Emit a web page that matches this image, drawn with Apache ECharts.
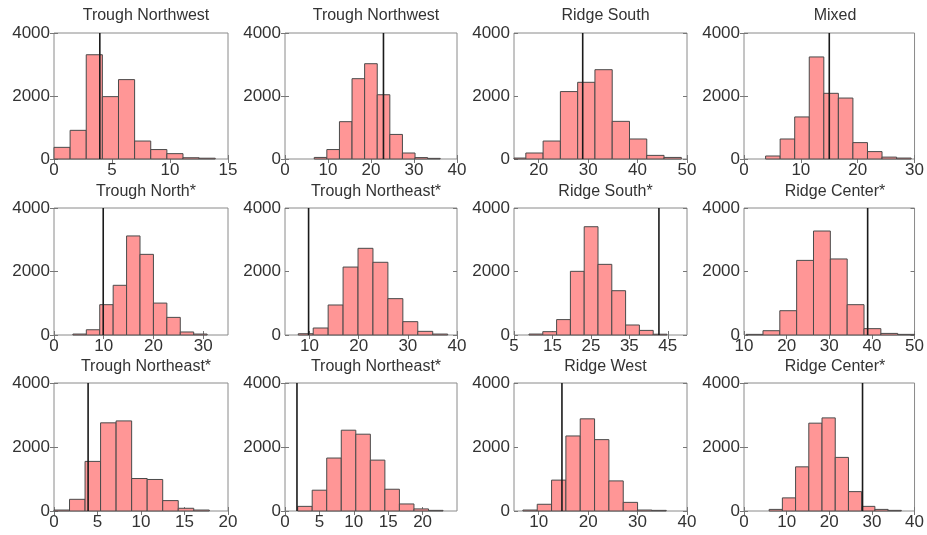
<!DOCTYPE html>
<html>
<head>
<meta charset="utf-8">
<script src="https://cdn.jsdelivr.net/npm/echarts@6/dist/echarts.min.js"></script>
<style>
html,body{margin:0;padding:0;background:#fff;}
#chart{width:927px;height:535px;}
</style>
</head>
<body>
<div id="chart"></div>
<script>
// ---- data ----
const panelTitles = ['Trough Northwest','Trough Northwest','Ridge South','Mixed',
  'Trough North*','Trough Northeast*','Ridge South*','Ridge Center*',
  'Trough Northeast*','Trough Northeast*','Ridge West','Ridge Center*'];
const xMin = [0, 0, 15, 0, 0, 5, 5, 10, 0, 0, 5, 0];
const xMax = [15, 40, 50, 30, 35, 40, 50, 50, 20, 25, 40, 40];
const xTicks = [[0,5,10,15],[0,10,20,30,40],[20,30,40,50],[0,10,20,30],
  [0,10,20,30],[10,20,30,40],[5,15,25,35,45],[10,20,30,40,50],
  [0,5,10,15,20],[0,5,10,15,20],[10,20,30,40],[0,10,20,30,40]];
const yTicks = [0, 2000, 4000];
const binLo = [0, 6.8, 13.9, 3.8, 3.8, 7.7, 8.9, 10.5, 0, 1.84, 6.8, 5.9];
const binHi = [13.9, 36.1, 48.85, 29.4, 30.8, 38.1, 44.8, 50.0, 17.85, 22.97, 35.8, 36.9];
const counts1  = [370, 910, 3310, 1980, 2520, 570, 300, 170, 40, 25];
const counts2  = [50, 300, 1185, 2550, 3025, 2040, 780, 190, 45, 20];
const counts3  = [30, 190, 570, 2140, 2435, 2835, 1195, 635, 115, 50];
const counts4  = [95, 635, 1335, 3240, 2085, 1935, 520, 235, 60, 30];
const counts5  = [30, 165, 955, 1565, 3120, 2540, 1005, 555, 95, 30];
const counts6  = [40, 220, 945, 2140, 2730, 2290, 1145, 420, 115, 30];
const counts7  = [30, 105, 485, 2005, 3410, 2225, 1395, 315, 145, 25];
const counts8  = [20, 135, 765, 2350, 3275, 2395, 955, 200, 50, 20];
const counts9  = [30, 365, 1550, 2755, 2815, 1015, 985, 325, 85, 30];
const counts10 = [145, 650, 1655, 2525, 2400, 1590, 680, 220, 65, 20];
const counts11 = [30, 210, 965, 2345, 2880, 2230, 940, 270, 30, 20];
const counts12 = [50, 410, 1380, 2745, 2910, 1675, 605, 145, 50, 20];
const allCounts = [counts1,counts2,counts3,counts4,counts5,counts6,counts7,counts8,counts9,counts10,counts11,counts12];
const observed = [3.95, 22.9, 28.9, 15.0, 9.9, 9.8, 42.7, 39.0, 3.92, 1.74, 14.7, 27.8];

// ---- layout ----
const colLeft = [54, 285, 514, 744];
const colWidth = [174, 172, 173, 172];
const rowTop = [33, 208, 383];
const rowHeight = [126, 127, 128];
const titleTop = [3, 179, 354];

const FONT = 'Liberation Sans, Arial, sans-serif';
const grids = [], xAxes = [], yAxes = [], series = [], titles = [];

for (let i = 0; i < 12; i++) {
  const r = Math.floor(i / 4), c = i % 4;
  grids.push({left: colLeft[c], top: rowTop[r], width: colWidth[c], height: rowHeight[r],
    show: true, borderColor: '#8a8a8a', borderWidth: 1, backgroundColor: '#fff', containLabel: false});
  titles.push({text: panelTitles[i], left: colLeft[c] + colWidth[c] / 2, top: titleTop[r],
    textAlign: 'center',
    textStyle: {fontFamily: FONT, fontSize: 16, fontWeight: 'normal', color: '#333'}});
  // bottom x
  xAxes.push({type: 'value', gridIndex: i, min: xMin[i], max: xMax[i], position: 'bottom',
    splitLine: {show: false}, axisLine: {show: false},
    axisTick: {show: true, inside: true, length: 4, lineStyle: {color: '#777'}, customValues: xTicks[i]},
    axisLabel: {customValues: xTicks[i], fontFamily: FONT, fontSize: 17, color: '#333', margin: 3,
      showMinLabel: true, showMaxLabel: true, formatter: v => String(v)}});
  // top x (mirror ticks)
  xAxes.push({type: 'value', gridIndex: i, min: xMin[i], max: xMax[i], position: 'top',
    splitLine: {show: false}, axisLine: {show: false},
    axisTick: {show: true, inside: true, length: 4, lineStyle: {color: '#777'}, customValues: xTicks[i]},
    axisLabel: {show: false}});
  yAxes.push({type: 'value', gridIndex: i, min: 0, max: 4000, position: 'left',
    splitLine: {show: false}, axisLine: {show: false},
    axisTick: {show: true, inside: true, length: 4, lineStyle: {color: '#777'}, customValues: yTicks},
    axisLabel: {customValues: yTicks, fontFamily: FONT, fontSize: 17, color: '#333', margin: 4,
      formatter: v => String(v)}});
  yAxes.push({type: 'value', gridIndex: i, min: 0, max: 4000, position: 'right',
    splitLine: {show: false}, axisLine: {show: false},
    axisTick: {show: true, inside: true, length: 4, lineStyle: {color: '#777'}, customValues: yTicks},
    axisLabel: {show: false}});

  const n = allCounts[i].length;
  const w = (binHi[i] - binLo[i]) / n;
  const data = allCounts[i].map((v, k) => [binLo[i] + k * w, binLo[i] + (k + 1) * w, v]);
  series.push({
    type: 'custom', xAxisIndex: 2 * i, yAxisIndex: 2 * i, data: data, z: 2,
    renderItem: function (params, api) {
      const p0 = api.coord([api.value(0), api.value(2)]);
      const p1 = api.coord([api.value(1), 0]);
      const rect = echarts.graphic.clipRectByRect(
        {x: p0[0], y: p0[1], width: p1[0] - p0[0], height: p1[1] - p0[1]},
        {x: params.coordSys.x, y: params.coordSys.y, width: params.coordSys.width, height: params.coordSys.height});
      return rect && {type: 'rect', shape: rect,
        style: {fill: '#ff9696', stroke: '#4a4a4a', lineWidth: 1}};
    }
  });
  series.push({
    type: 'line', xAxisIndex: 2 * i, yAxisIndex: 2 * i, z: 5,
    data: [[observed[i], 0], [observed[i], 4000]],
    showSymbol: false, symbol: 'none', silent: true, animation: false,
    lineStyle: {color: '#1a1a1a', width: 1.6}
  });
}

const chart = echarts.init(document.getElementById('chart'), null, {renderer: 'canvas'});
chart.setOption({
  animation: false,
  backgroundColor: '#fff',
  title: titles,
  grid: grids,
  xAxis: xAxes,
  yAxis: yAxes,
  series: series
});
</script>
</body>
</html>
